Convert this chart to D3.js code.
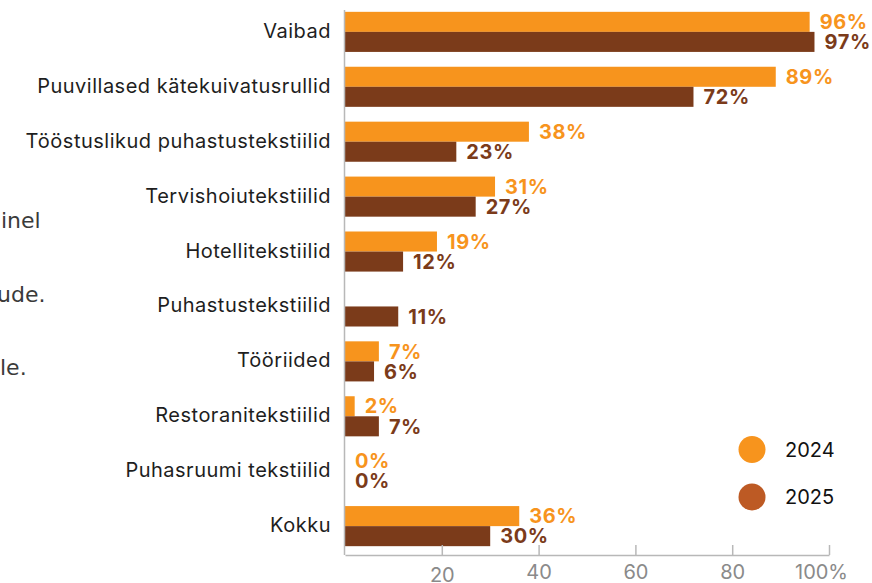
<!DOCTYPE html>
<html>
<head>
<meta charset="utf-8">
<script src="https://cdn.jsdelivr.net/npm/d3@7"></script>
<style>
    body { margin: 0; background: #fff; }
    svg { display: block; font-family: "Inter", "Roboto", sans-serif; }
</style>
</head>
<body>
<div id="chart"></div>
<script>
//Daten
var categories = ["Vaibad", "Puuvillased kätekuivatusrullid", "Tööstuslikud puhastustekstiilid",
    "Tervishoiutekstiilid", "Hotellitekstiilid", "Puhastustekstiilid", "Tööriided",
    "Restoranitekstiilid", "Puhasruumi tekstiilid", "Kokku"];
var years = ["2024", "2025"];
var values2024 = [96, 89, 38, 31, 19, null, 7, 2, 0, 36];
var values2025 = [97, 72, 23, 27, 12, 11, 6, 7, 0, 30];
var tickValues = [20, 40, 60, 80, 100];
var sideText = ["inel", "ude.", "le."];

var barColors = {"2024": "#f7941d", "2025": "#7b3b1a"};
var legendColors = {"2024": "#f7941d", "2025": "#bd5a24"};

var width = 872, height = 583;
var axisY = 555;

var svg = d3.select("#chart").append("svg")
        .attr("width", width)
        .attr("height", height);

//Skalen
var x = d3.scaleLinear().domain([0, 100]).range([345, 829]);
var y = d3.scaleBand().domain(categories).range([-3, 561]).padding(0.27);
var ySub = d3.scaleBand().domain(years).range([0, y.bandwidth()]);

var rows = categories.map(function (c, i) {
    return {cat: c, vals: [{year: "2024", v: values2024[i]}, {year: "2025", v: values2025[i]}]};
});

//abgeschnittener Text links (Rest eines Absatzes)
var sideX = [1, -3, 0];
svg.selectAll("text.side")
        .data(sideText)
        .enter().append("text")
        .attr("class", "side")
        .attr("x", function (d, i) { return sideX[i]; })
        .attr("y", function (d, i) { return 228 + i * 73.5; })
        .style("font-family", "'DejaVu Sans', sans-serif")
        .style("font-size", "22px")
        .style("fill", "#3a3a3a")
        .text(function (d) { return d; });

//Balken
var groups = svg.selectAll("g.row")
        .data(rows)
        .enter().append("g")
        .attr("class", "row")
        .attr("transform", function (d) { return "translate(0," + y(d.cat) + ")"; });

groups.selectAll("rect")
        .data(function (d) { return d.vals.filter(function (e) { return e.v !== null; }); })
        .enter().append("rect")
        .attr("x", x(0))
        .attr("y", function (d) { return ySub(d.year); })
        .attr("width", function (d) { return x(d.v) - x(0); })
        .attr("height", ySub.bandwidth())
        .style("fill", function (d) { return barColors[d.year]; });

groups.selectAll("text.val")
        .data(function (d) { return d.vals.filter(function (e) { return e.v !== null; }); })
        .enter().append("text")
        .attr("class", "val")
        .attr("x", function (d) { return x(d.v) + 10; })
        .attr("y", function (d) { return ySub(d.year) + ySub.bandwidth() / 2; })
        .attr("dy", "0.36em")
        .style("font-size", "20px")
        .style("font-weight", "700")
        .style("letter-spacing", "0.6px")
        .style("fill", function (d) { return barColors[d.year]; })
        .text(function (d) { return d.v + "%"; });

//Kategorien
svg.selectAll("text.cat")
        .data(categories)
        .enter().append("text")
        .attr("class", "cat")
        .attr("x", 331)
        .attr("y", function (d) { return y(d) + y.bandwidth() / 2; })
        .attr("dy", "0.3em")
        .attr("text-anchor", "end")
        .style("font-size", "20px")
        .style("letter-spacing", "0.5px")
        .style("fill", "#1e1e1e")
        .text(function (d) { return d; });

//Achsen
svg.append("line")
        .attr("x1", x(0) - 0.5).attr("x2", x(0) - 0.5)
        .attr("y1", 10).attr("y2", axisY)
        .style("stroke", "#b8b8b8")
        .style("stroke-width", 1.5);

var xAxis = svg.append("g")
        .attr("transform", "translate(0," + axisY + ")")
        .call(d3.axisBottom(x)
                .tickValues(tickValues)
                .tickSizeInner(-10)
                .tickSizeOuter(0)
                .tickPadding(11)
                .tickFormat(function (d) { return d === 100 ? "100%" : d; }));

xAxis.select(".domain").style("stroke", "#b8b8b8").style("stroke-width", 1.5);
xAxis.selectAll(".tick line").style("stroke", "#b8b8b8").style("stroke-width", 1.5);
xAxis.selectAll(".tick text")
        .style("font-family", "'Inter', 'Roboto', sans-serif")
        .style("font-size", "20px")
        .style("fill", "#8a8a8a")
        .attr("dx", function (d) { return d === 100 ? -8 : 0; })
        .attr("y", function (d) { return d === 20 ? 13 : 10; });

//Legende
var legend = svg.selectAll("g.legend")
        .data(years)
        .enter().append("g")
        .attr("class", "legend")
        .attr("transform", function (d, i) { return "translate(752," + (449.5 + i * 47.5) + ")"; });

legend.append("circle")
        .attr("r", 13.5)
        .style("fill", function (d) { return legendColors[d]; });

legend.append("text")
        .attr("x", 33)
        .attr("dy", "0.35em")
        .style("font-size", "20px")
        .style("fill", "#111")
        .text(function (d) { return d; });
</script>
</body>
</html>
